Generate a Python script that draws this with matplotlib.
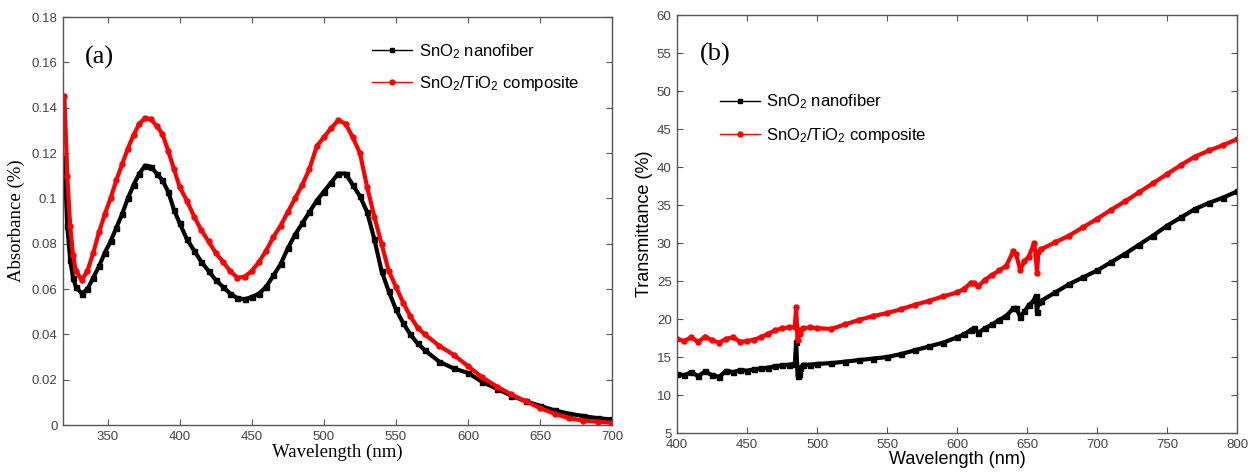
import numpy as np
import matplotlib.pyplot as plt
from matplotlib.lines import Line2D

# ---- panel (a): absorbance ----
wl_a = [320, 322, 324, 326, 328, 332, 336, 340, 344, 348, 352, 356, 360, 364, 368,
        372, 376, 380, 384, 388, 392, 396, 400, 405, 410, 415, 420, 425, 430, 435,
        440, 445, 450, 455, 460, 465, 470, 475, 480, 485, 490, 495, 500, 505, 510,
        515, 520, 525, 530, 535, 540, 545, 550, 555, 560, 565, 570, 580, 590, 600,
        610, 620, 630, 640, 650, 660, 670, 680, 690, 700]
abs_sno2 = [0.118, 0.088, 0.073, 0.065, 0.061, 0.058, 0.060, 0.065, 0.070, 0.076,
            0.081, 0.087, 0.093, 0.100, 0.106, 0.111, 0.1145, 0.114, 0.111, 0.108,
            0.103, 0.095, 0.089, 0.082, 0.077, 0.072, 0.068, 0.064, 0.061, 0.058,
            0.056, 0.0555, 0.0565, 0.058, 0.061, 0.066, 0.071, 0.078, 0.084, 0.089,
            0.094, 0.099, 0.103, 0.107, 0.111, 0.111, 0.106, 0.101, 0.094, 0.082,
            0.068, 0.059, 0.051, 0.045, 0.040, 0.036, 0.033, 0.028, 0.025, 0.023,
            0.019, 0.016, 0.013, 0.0105, 0.0085, 0.0065, 0.005, 0.004, 0.003, 0.0025]
abs_comp = [0.145, 0.110, 0.088, 0.075, 0.068, 0.064, 0.068, 0.076, 0.085, 0.093,
            0.100, 0.108, 0.115, 0.122, 0.128, 0.133, 0.1355, 0.135, 0.132, 0.1285,
            0.121, 0.113, 0.105, 0.099, 0.092, 0.086, 0.081, 0.076, 0.072, 0.068,
            0.065, 0.0655, 0.068, 0.072, 0.077, 0.083, 0.088, 0.094, 0.100, 0.106,
            0.113, 0.123, 0.127, 0.131, 0.1345, 0.133, 0.127, 0.120, 0.105, 0.092,
            0.080, 0.068, 0.061, 0.054, 0.048, 0.043, 0.040, 0.035, 0.031, 0.026,
            0.021, 0.017, 0.0135, 0.0105, 0.0075, 0.005, 0.003, 0.002, 0.0015, 0.001]

# ---- panel (b): transmittance ----
wl_b = [400, 405, 410, 415, 420, 425, 430, 435, 440, 445, 450, 455, 460, 465, 470,
        475, 480, 484, 485, 486, 487, 488, 490, 495, 500, 510, 520, 530, 540, 550,
        560, 570, 580, 590, 600, 605, 610, 612, 615, 620, 625, 630, 635, 640, 642,
        645, 648, 651, 655, 656, 657, 658, 660, 670, 680, 690, 700, 710, 720, 730,
        740, 750, 760, 770, 780, 790, 800]
tr_sno2 = [12.8, 12.6, 13.0, 12.5, 13.1, 12.6, 12.4, 13.2, 13.0, 13.3, 13.2, 13.4,
           13.5, 13.6, 13.8, 13.9, 14.0, 14.1, 17.0, 12.5, 12.8, 13.6, 14.0, 14.0,
           14.1, 14.2, 14.4, 14.6, 14.8, 15.0, 15.4, 15.9, 16.4, 16.9, 17.6, 18.0,
           18.6, 18.8, 18.2, 18.8, 19.3, 19.9, 20.4, 21.4, 21.5, 20.3, 21.0, 21.8,
           22.5, 23.0, 20.9, 22.2, 22.4, 23.5, 24.6, 25.5, 26.4, 27.5, 28.6, 29.8,
           31.0, 32.3, 33.4, 34.5, 35.3, 36.0, 36.8]
tr_comp = [17.4, 17.1, 17.6, 17.0, 17.7, 17.2, 16.9, 17.4, 17.6, 17.0, 17.1, 17.3,
           17.6, 18.1, 18.5, 18.8, 18.9, 19.0, 21.6, 17.2, 18.6, 18.0, 18.8, 18.9,
           18.8, 18.7, 19.3, 19.9, 20.4, 20.8, 21.3, 21.9, 22.4, 23.0, 23.5, 24.0,
           24.8, 24.7, 24.3, 25.2, 25.8, 26.4, 27.0, 28.9, 28.6, 26.5, 27.6, 28.2,
           30.0, 28.5, 26.1, 28.8, 29.2, 30.1, 31.0, 32.1, 33.2, 34.4, 35.5, 36.7,
           37.9, 39.1, 40.3, 41.4, 42.2, 42.9, 43.7]

labels = ['SnO$_2$ nanofiber', 'SnO$_2$/TiO$_2$ composite']
sans = 'Liberation Sans'
serif = 'Liberation Serif'
spine_c = '#555555'
tick_c = '#444444'

plt.rcParams['mathtext.fontset'] = 'custom'
plt.rcParams['mathtext.rm'] = sans
plt.rcParams['mathtext.it'] = sans

fig = plt.figure(figsize=(12.54, 4.76), dpi=100)
ax1 = fig.add_axes([0.0502, 0.107, 0.438, 0.857])
ax2 = fig.add_axes([0.540, 0.0903, 0.4466, 0.8777])


def style(ax):
    for s in ax.spines.values():
        s.set_color(spine_c)
        s.set_linewidth(1.0)
    ax.tick_params(direction='in', top=True, right=True, length=4, width=0.8,
                   color=spine_c, labelcolor=tick_c, labelsize=9.5, pad=4)
    for t in ax.get_xticklabels() + ax.get_yticklabels():
        t.set_family(sans)


def handles():
    return [Line2D([], [], color='black', lw=1, marker='s', ms=3.5),
            Line2D([], [], color='red', lw=1, marker='o', ms=3.5)]


# (a)
ax1.plot(wl_a, abs_sno2, color='black', lw=3, marker='s', ms=3.6)
ax1.plot(wl_a, abs_comp, color='red', lw=3, marker='o', ms=3.6)
ax1.set_xlim(319, 700)
ax1.set_ylim(0, 0.18)
ax1.set_xticks([350, 400, 450, 500, 550, 600, 650, 700])
ax1.set_yticks(np.arange(0, 0.181, 0.02))
ax1.set_yticklabels(['0', '0.02', '0.04', '0.06', '0.08', '0.1', '0.12', '0.14', '0.16', '0.18'])
style(ax1)
ax1.set_xlabel('Wavelength (nm)', family=serif, fontsize=13.5, labelpad=1)
ax1.set_ylabel('Absorbance (%)', family=serif, fontsize=13.5, labelpad=5)
ax1.text(0.04, 0.9, '(a)', transform=ax1.transAxes, family=serif, fontsize=19, va='center')
ax1.legend(handles(), labels, loc='upper left', bbox_to_anchor=(0.297, 0.912),
           bbox_transform=fig.transFigure, frameon=False, borderpad=0, borderaxespad=0,
           handlelength=2.4, handletextpad=0.4, labelspacing=0.8,
           prop={'family': sans, 'size': 12})

# (b)
ax2.plot(wl_b, tr_sno2, color='black', lw=3, marker='s', ms=3.6)
ax2.plot(wl_b, tr_comp, color='red', lw=3, marker='o', ms=3.6)
ax2.set_xlim(400, 800)
ax2.set_ylim(5, 60)
ax2.set_xticks(np.arange(400, 801, 50))
ax2.set_yticks(np.arange(5, 61, 5))
style(ax2)
ax2.tick_params(axis='x', pad=4)
ax2.set_xlabel('Wavelength (nm)', family=sans, fontsize=13, labelpad=0)
ax2.set_ylabel('Transmittance (%)', family=sans, fontsize=13, labelpad=3)
ax2.text(0.04, 0.905, '(b)', transform=ax2.transAxes, family=serif, fontsize=19, va='center')
ax2.legend(handles(), labels, loc='upper left', bbox_to_anchor=(0.574, 0.806),
           bbox_transform=fig.transFigure, frameon=False, borderpad=0, borderaxespad=0,
           handlelength=2.4, handletextpad=0.4, labelspacing=0.9,
           prop={'family': sans, 'size': 12})

fig.savefig('out.png', dpi=100)
